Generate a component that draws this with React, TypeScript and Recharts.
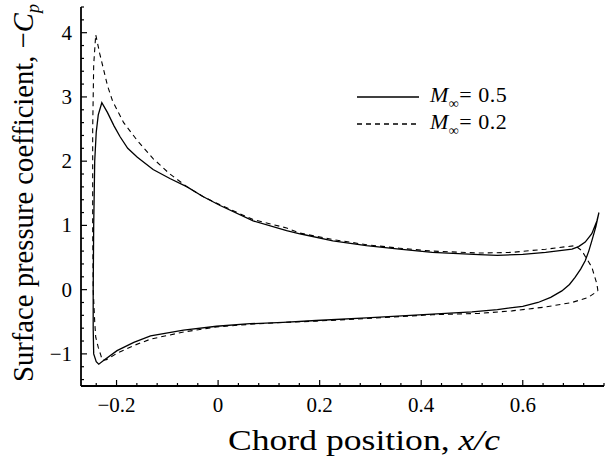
import { Legend, Line, LineChart, XAxis, YAxis } from "recharts";

// surface pressure: [x/c, -Cp]
// M = 0.5, upper surface from trailing edge to leading edge
const m05Upper: [number, number][] = [
  [0.75, 1.2], [0.746, 1.07], [0.736, 0.87], [0.723, 0.74], [0.71, 0.67], [0.697, 0.63],
  [0.645, 0.58], [0.6, 0.55], [0.55, 0.535], [0.514, 0.545], [0.422, 0.58], [0.357, 0.63],
  [0.292, 0.685], [0.226, 0.76], [0.161, 0.87], [0.135, 0.92], [0.069, 1.07],
  [0.004, 1.31], [-0.03, 1.45], [-0.061, 1.6], [-0.095, 1.73], [-0.128, 1.87],
  [-0.159, 2.06], [-0.178, 2.2], [-0.193, 2.38], [-0.205, 2.55], [-0.218, 2.76],
  [-0.229, 2.91], [-0.236, 2.72], [-0.24, 2.45], [-0.243, 2.0], [-0.245, 1.0],
  [-0.246, 0],
];
// M = 0.5, lower surface from leading edge to trailing edge
const m05Lower: [number, number][] = [
  [-0.246, -0.6], [-0.245, -1.0], [-0.24, -1.12], [-0.235, -1.16], [-0.225, -1.1],
  [-0.199, -0.95], [-0.166, -0.82], [-0.133, -0.72], [-0.068, -0.63], [-0.003, -0.57],
  [0.063, -0.53], [0.128, -0.51], [0.193, -0.48], [0.292, -0.44], [0.422, -0.38],
  [0.5, -0.345], [0.55, -0.31], [0.6, -0.26], [0.63, -0.2], [0.655, -0.12],
  [0.677, -0.02], [0.692, 0.08], [0.703, 0.19], [0.714, 0.32], [0.723, 0.45],
  [0.73, 0.6], [0.736, 0.76], [0.744, 0.98], [0.75, 1.2],
];
// M = 0.2
const m02Upper: [number, number][] = [
  [0.748, -0.02], [0.746, 0.09], [0.736, 0.35], [0.716, 0.61], [0.703, 0.685],
  [0.645, 0.63], [0.579, 0.58], [0.514, 0.57], [0.422, 0.6], [0.357, 0.645],
  [0.292, 0.7], [0.226, 0.78], [0.161, 0.88], [0.135, 0.96], [0.069, 1.09],
  [0.004, 1.32], [-0.03, 1.45], [-0.061, 1.6], [-0.095, 1.8], [-0.128, 2.04],
  [-0.159, 2.32], [-0.186, 2.6], [-0.208, 2.94], [-0.218, 3.18], [-0.225, 3.41],
  [-0.233, 3.67], [-0.241, 3.97], [-0.245, 3.5], [-0.247, 2.5], [-0.247, 1.0],
  [-0.246, 0],
];
const m02Lower: [number, number][] = [
  [-0.243, -0.5], [-0.241, -0.74], [-0.236, -0.9], [-0.231, -1.02], [-0.228, -1.1],
  [-0.22, -1.09], [-0.199, -0.99], [-0.166, -0.87], [-0.133, -0.77], [-0.068, -0.66],
  [-0.003, -0.58], [0.063, -0.54], [0.128, -0.51], [0.193, -0.49], [0.292, -0.45],
  [0.422, -0.39], [0.514, -0.37], [0.579, -0.33], [0.645, -0.27], [0.697, -0.2],
  [0.729, -0.12], [0.748, -0.02],
];

const xTicks = [
  -0.24, -0.2, -0.16, -0.12, -0.08, -0.04, 0, 0.04, 0.08, 0.12, 0.16, 0.2, 0.24,
  0.28, 0.32, 0.36, 0.4, 0.44, 0.48, 0.52, 0.56, 0.6, 0.64, 0.68, 0.72, 0.76,
];
const xMajor = [-0.2, 0, 0.2, 0.4, 0.6];
const yTicks = [
  -1.4, -1.2, -1, -0.8, -0.6, -0.4, -0.2, 0, 0.2, 0.4, 0.6, 0.8, 1, 1.2, 1.4, 1.6,
  1.8, 2, 2.2, 2.4, 2.6, 2.8, 3, 3.2, 3.4, 3.6, 3.8, 4, 4.2, 4.4,
];
const yMajor = [-1, 0, 1, 2, 3, 4];

const legendItems = [
  { mach: "0.5", dash: undefined },
  { mach: "0.2", dash: "5 4" },
];

const toPoints = (rows: [number, number][]) => rows.map(([x, y]) => ({ x, y }));
const m05 = toPoints([...m05Upper, ...m05Lower]);
const m02 = toPoints([...m02Upper, ...m02Lower]);

const FONT = "'Liberation Serif', 'Times New Roman', serif";
const fmt = (v: number) => (v < 0 ? `\u2212${Math.abs(v)}` : `${v}`);

const XTick = ({ x, y, payload }: any) => {
  const major = xMajor.includes(payload.value);
  return (
    <g>
      <line x1={x} x2={x} y1={y} y2={y - (major ? 6 : 3)} stroke="#000" strokeWidth={1.2} />
      {major && (
        <text x={x} y={y + 26} textAnchor="middle" fontFamily={FONT} fontSize={21} fill="#000">
          {fmt(payload.value)}
        </text>
      )}
    </g>
  );
};

const YTick = ({ x, y, payload }: any) => {
  const major = yMajor.includes(payload.value);
  return (
    <g>
      <line x1={x} x2={x + (major ? 6 : 3)} y1={y} y2={y} stroke="#000" strokeWidth={1.2} />
      {major && (
        <text x={x - 9} y={y + 7} textAnchor="end" fontFamily={FONT} fontSize={21} fill="#000">
          {fmt(payload.value)}
        </text>
      )}
    </g>
  );
};

const XTitle = () => (
  <text
    x={228}
    y={450}
    fontFamily={FONT}
    fontSize={30}
    fill="#000"
    textLength={272}
    lengthAdjust="spacingAndGlyphs"
  >
    Chord position, <tspan fontStyle="italic">x/c</tspan>
  </text>
);

const YTitle = () => (
  <text
    x={33}
    y={193}
    transform="rotate(-90 33 193)"
    textAnchor="middle"
    fontFamily={FONT}
    fontSize={30}
    fill="#000"
    textLength={378}
    lengthAdjust="spacingAndGlyphs"
  >
    Surface pressure coefficient, {"\u2212"}
    <tspan fontStyle="italic">C</tspan>
    <tspan fontStyle="italic" fontSize={19} dy={6}>p</tspan>
  </text>
);

const renderLegend = () => (
  <div style={{ fontFamily: FONT, fontSize: 22, color: "#000" }}>
    {legendItems.map((item) => (
      <div key={item.mach} style={{ display: "flex", alignItems: "center", height: 27 }}>
        <svg width={62} height={6}>
          <line x1={0} x2={62} y1={3} y2={3} stroke="#000" strokeWidth={1.3} strokeDasharray={item.dash} />
        </svg>
        <span style={{ marginLeft: 11, whiteSpace: "nowrap", lineHeight: "22px", letterSpacing: 0.5 }}>
          <i>M</i>
          <span style={{ fontSize: 14, position: "relative", top: 6 }}>{"\u221e"}</span>
          {"= "}
          {item.mach}
        </span>
      </div>
    ))}
  </div>
);

export default function App() {
  return (
    <div style={{ position: "absolute", left: 0, top: 0, background: "#fff" }}>
      <LineChart width={607} height={456} margin={{ top: 7, right: 3, left: 21, bottom: 30 }}>
        <XAxis
          type="number"
          dataKey="x"
          domain={[-0.27, 0.76]}
          ticks={xTicks}
          interval={0}
          tick={<XTick />}
          tickLine={false}
          tickSize={0}
          tickMargin={0}
          height={40}
          axisLine={{ stroke: "#000", strokeWidth: 1.8 }}
          allowDataOverflow
          label={XTitle}
        />
        <YAxis
          type="number"
          dataKey="y"
          domain={[-1.5, 4.4]}
          ticks={yTicks}
          interval={0}
          tick={<YTick />}
          tickLine={false}
          tickSize={0}
          tickMargin={0}
          width={60}
          axisLine={{ stroke: "#000", strokeWidth: 1.8 }}
          allowDataOverflow
          label={YTitle}
        />
        <Legend
          layout="horizontal"
          verticalAlign="middle"
          align="center"
          content={renderLegend}
          wrapperStyle={{ position: "absolute", left: 357, top: 83, width: "auto" }}
        />
        <Line
          data={m02}
          dataKey="y"
          type="linear"
          stroke="#000"
          strokeWidth={1.1}
          strokeDasharray="5 4"
          dot={false}
          isAnimationActive={false}
        />
        <Line
          data={m05}
          dataKey="y"
          type="linear"
          stroke="#000"
          strokeWidth={1.3}
          dot={false}
          isAnimationActive={false}
        />
      </LineChart>
    </div>
  );
}
